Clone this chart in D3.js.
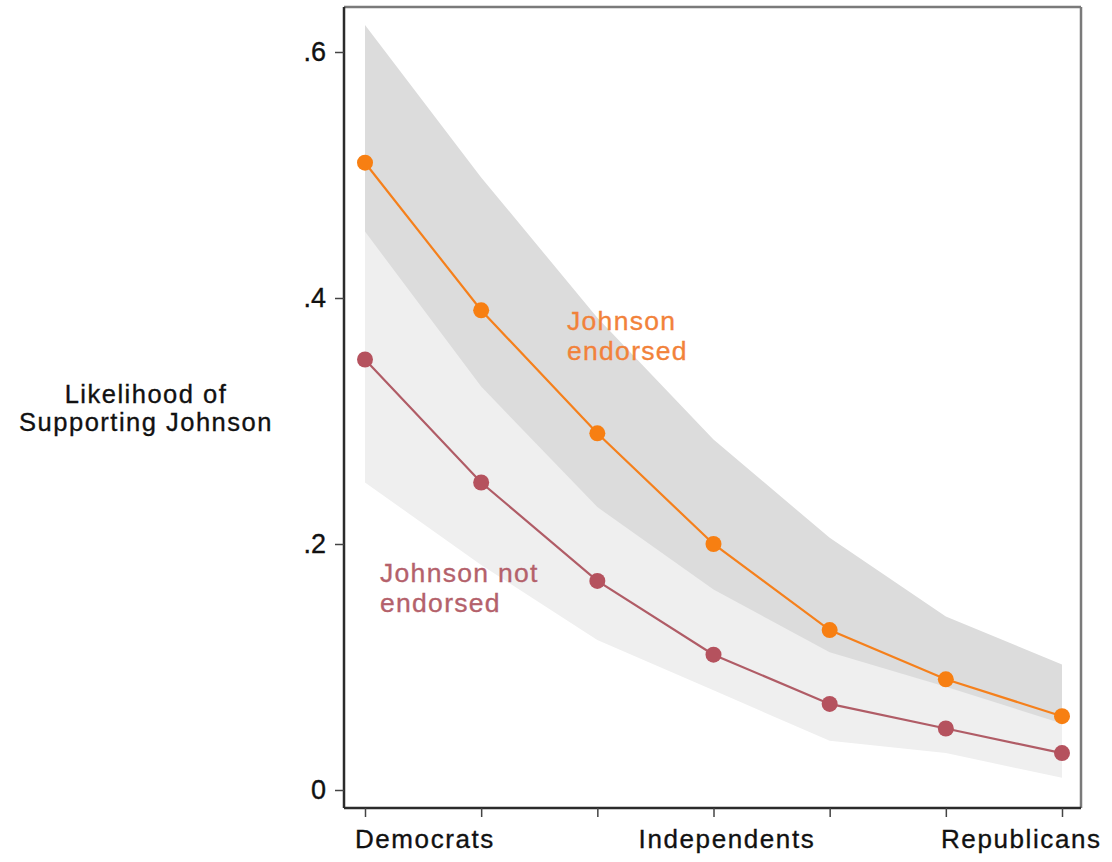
<!DOCTYPE html>
<html>
<head>
<meta charset="utf-8">
<script src="https://cdn.jsdelivr.net/npm/d3@7"></script>
<style>
  html, body { margin: 0; padding: 0; background: #fff; }
  svg { display: block; }
  text { font-family: "Liberation Sans", Arial, Helvetica, sans-serif; }
</style>
</head>
<body>
<svg id="chart" width="1112" height="862"></svg>
<script>
// Party identification, 1 = Democrats ... 7 = Republicans
const categories = [1, 2, 3, 4, 5, 6, 7];

// Predicted probability of supporting Johnson
const endorsed      = [0.51, 0.39, 0.29, 0.20, 0.13, 0.09, 0.06];
const notEndorsed   = [0.35, 0.25, 0.17, 0.11, 0.07, 0.05, 0.03];

// Confidence intervals
const endorsedLow     = [0.454, 0.328, 0.230, 0.163, 0.112, 0.084, 0.054];
const endorsedHigh    = [0.622, 0.498, 0.384, 0.285, 0.205, 0.141, 0.102];
const notEndorsedLow  = [0.250, 0.183, 0.122, 0.081, 0.040, 0.030, 0.010];
const notEndorsedHigh = [0.460, 0.335, 0.240, 0.170, 0.120, 0.090, 0.060];

// Axis labelling
const yTicks = [0, 0.2, 0.4, 0.6];
const yTickLabels = ["0", ".2", ".4", ".6"];
const xTickLabels = ["Democrats", "Independents", "Republicans"];
const xTickLabelPos = [1.516, 4.116, 6.65];

const svg = d3.select("#chart");

const frame = { left: 344, right: 1081, top: 7, bottom: 808 };
const x = d3.scaleLinear().domain([1, 7]).range([365, 1062]);
const y = d3.scaleLinear().domain([0, 0.6]).range([790, 52]);

const pts = arr => categories.map((c, i) => ({ c, v: arr[i] }));
const band = (lo, hi) => categories.map((c, i) => ({ c, lo: lo[i], hi: hi[i] }));

const area = d3.area().x(d => x(d.c)).y0(d => y(d.lo)).y1(d => y(d.hi));
const line = d3.line().x(d => x(d.c)).y(d => y(d.v));

// Confidence bands
svg.append("path")
  .datum(band(notEndorsedLow, notEndorsedHigh))
  .attr("d", area)
  .attr("fill", "#efefef");
svg.append("path")
  .datum(band(endorsedLow, endorsedHigh))
  .attr("d", area)
  .attr("fill", "#dcdcdc");

// Series lines and markers
const series = [
  { data: endorsed, color: "#f77f12", lineColor: "#f5801c" },
  { data: notEndorsed, color: "#b5525e", lineColor: "#b05c66" }
];
series.forEach(s => {
  svg.append("path")
    .datum(pts(s.data))
    .attr("d", line)
    .attr("fill", "none")
    .attr("stroke", s.lineColor)
    .attr("stroke-width", 2.2);
  svg.append("g")
    .selectAll("circle")
    .data(pts(s.data))
    .join("circle")
    .attr("cx", d => x(d.c))
    .attr("cy", d => y(d.v))
    .attr("r", 8)
    .attr("fill", s.color);
});

// Frame: top and right borders grey, left and bottom axes dark
svg.append("line")
  .attr("x1", frame.left).attr("x2", frame.right)
  .attr("y1", frame.top).attr("y2", frame.top)
  .attr("stroke", "#7a7a7a").attr("stroke-width", 2.5);
svg.append("line")
  .attr("x1", frame.right).attr("x2", frame.right)
  .attr("y1", frame.top).attr("y2", frame.bottom)
  .attr("stroke", "#7a7a7a").attr("stroke-width", 2.5);

// Y axis
const yAxis = d3.axisLeft(y)
  .tickValues(yTicks)
  .tickFormat((d, i) => yTickLabels[i])
  .tickSize(9)
  .tickPadding(9);
const gy = svg.append("g")
  .attr("transform", `translate(${frame.left},0)`)
  .call(yAxis);
gy.select(".domain")
  .attr("d", `M0,${frame.top}V${frame.bottom}`)
  .attr("stroke", "#2b2b2b").attr("stroke-width", 2.5);
gy.selectAll(".tick line").attr("stroke", "#444").attr("stroke-width", 1.5);
gy.selectAll(".tick text")
  .attr("fill", "#111")
  .attr("stroke", "#111").attr("stroke-width", 0.35)
  .style("font-size", "27px")
  .style("font-family", "'Liberation Sans', Arial, sans-serif");

// X axis (ticks only; labels placed separately)
const xAxis = d3.axisBottom(x)
  .tickValues(categories)
  .tickFormat("")
  .tickSize(9);
const gx = svg.append("g")
  .attr("transform", `translate(0,${frame.bottom})`)
  .call(xAxis);
gx.select(".domain")
  .attr("d", `M${frame.left},0H${frame.right}`)
  .attr("stroke", "#2b2b2b").attr("stroke-width", 2.5);
gx.selectAll(".tick line").attr("stroke", "#444").attr("stroke-width", 1.5);

svg.append("g")
  .selectAll("text")
  .data(xTickLabels)
  .join("text")
  .attr("x", (d, i) => x(xTickLabelPos[i]))
  .attr("y", 848)
  .attr("text-anchor", "middle")
  .attr("fill", "#111")
  .attr("stroke", "#111").attr("stroke-width", 0.35)
  .style("font-size", "26px")
  .style("letter-spacing", "1.6px")
  .text(d => d);

// Y axis title
const yTitle = svg.append("text")
  .attr("text-anchor", "middle")
  .attr("fill", "#111")
  .attr("stroke", "#111").attr("stroke-width", 0.35)
  .style("font-size", "25.5px")
  .style("letter-spacing", "1.5px");
yTitle.append("tspan").attr("x", 146).attr("y", 403).text("Likelihood of");
yTitle.append("tspan").attr("x", 146).attr("y", 431).text("Supporting Johnson");

// Series annotations
const annot = (lines, x0, y0, color) => {
  const t = svg.append("text")
    .attr("fill", color)
    .attr("stroke", color).attr("stroke-width", 0.35)
    .style("font-size", "26.5px")
    .style("letter-spacing", "1.3px");
  lines.forEach((l, i) => t.append("tspan").attr("x", x0).attr("y", y0 + i * 30).text(l));
};
annot(["Johnson", "endorsed"], 567, 330, "#f2823a");
annot(["Johnson not", "endorsed"], 380, 582, "#b4616b");
</script>
</body>
</html>
